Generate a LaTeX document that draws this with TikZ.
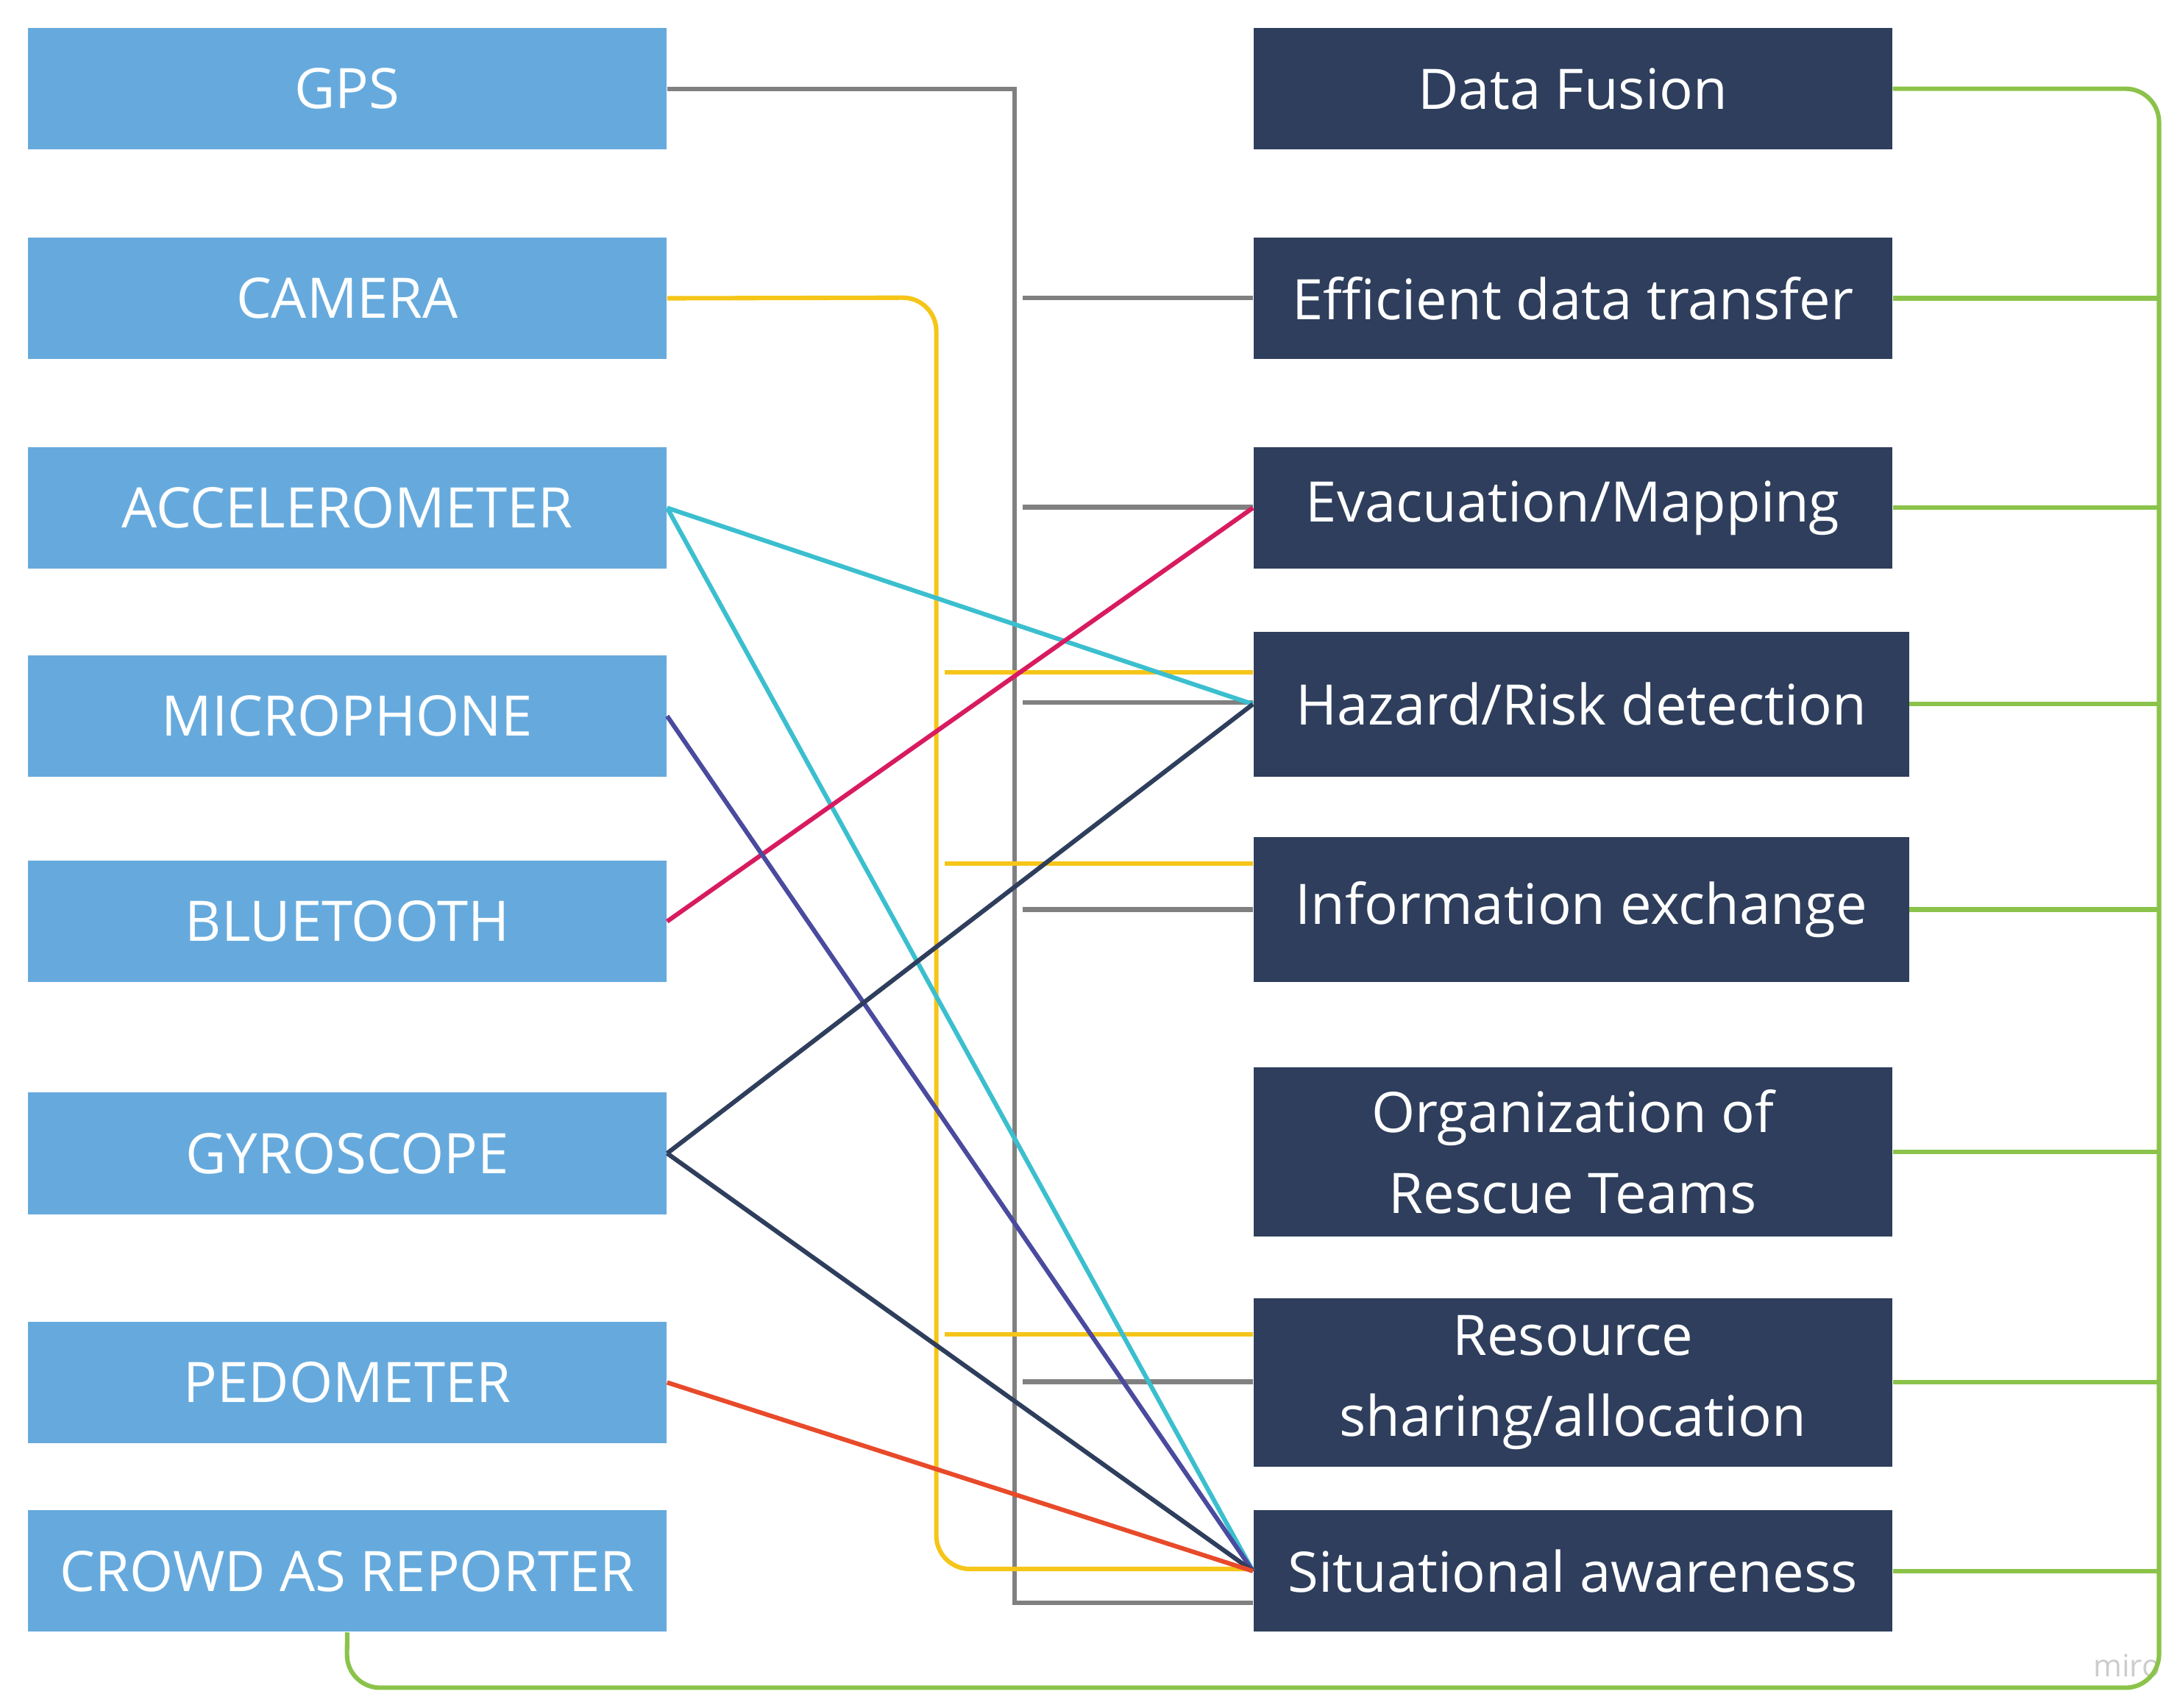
\documentclass[tikz,border=0pt]{standalone}
\usepackage{fontspec}
\setmainfont{Open Sans}
\definecolor{lb}{HTML}{66AADD}
\definecolor{db}{HTML}{2E3E5C}
\definecolor{gy}{HTML}{808080}
\definecolor{ye}{HTML}{F5C518}
\definecolor{cy}{HTML}{3BBFCF}
\definecolor{mg}{HTML}{D81B60}
\definecolor{bl}{HTML}{4A4A9E}
\definecolor{og}{HTML}{E84A2A}
\definecolor{gr}{HTML}{8BC34A}
\begin{document}
\begin{tikzpicture}[x=0.5pt,y=-0.5pt,
 L/.style={fill=lb,text=white,inner sep=0,minimum width=228.5pt,minimum height=43.5pt,font=\fontsize{20}{24}\selectfont},
 R/.style={fill=db,text=white,inner sep=0,minimum width=228.5pt,font=\fontsize{20}{29}\selectfont,align=center},
 c/.style={line width=1.6pt}]
\useasboundingbox (0,0) rectangle (1560,1222);
\node[L] (gps) at (248.5,63.5) {GPS};
\node[L] (cam) at (248.5,213.5) {CAMERA};
\node[L] (acc) at (248.5,363.5) {ACCELEROMETER};
\node[L] (mic) at (248.5,512.5) {MICROPHONE};
\node[L] (blu) at (248.5,659.5) {BLUETOOTH};
\node[L] (gyr) at (248.5,825.5) {GYROSCOPE};
\node[L] (ped) at (248.5,989.5) {PEDOMETER};
\node[L] (cro) at (248.5,1124.5) {CROWD AS REPORTER};
\node[R,minimum height=43.5pt] (df) at (1125.5,63.5) {Data Fusion};
\node[R,minimum height=43.5pt] (ef) at (1125.5,213.5) {Efficient data transfer};
\node[R,minimum height=43.5pt] (ev) at (1125.5,363.5) {Evacuation/Mapping};
\node[R,minimum height=52pt,minimum width=234.5pt] (hz) at (1131.5,504) {Hazard/Risk detection};
\node[R,minimum height=52pt,minimum width=234.5pt] (in) at (1131.5,651) {Information exchange};
\node[R,minimum height=60.5pt] (org) at (1125.5,824.5) {Organization of\\Rescue Teams};
\node[R,minimum height=60.5pt] (res) at (1125.5,989.5) {Resource\\sharing/allocation};
\node[R,minimum height=43.5pt] (sit) at (1125.5,1124.5) {Situational awareness};
\node[text=gray!40,font=\fontsize{11}{12}\selectfont] (miro) at (1522,1192) {miro};
% gray
\draw[c,gy] (gps.east) -- (726,63.5) -- (726,1147) -- (sit.west |- 0,1147);
\foreach \n/\y in {ef/213,ev/363,hz/503,in/651,res/989}
  \draw[c,gy] (732,\y) -- (\n.west |- 0,\y);
% yellow
\draw[c,ye,rounded corners=12pt] (cam.east) -- (670,213) -- (670,1123) -- (sit.west |- 0,1123);
\foreach \n/\y in {hz/481,in/618,res/955}
  \draw[c,ye] (676,\y) -- (\n.west |- 0,\y);
% diagonals
\draw[c,cy] (acc.east) -- (hz.west);
\draw[c,cy] (acc.east) -- (sit.west);
\draw[c,mg] (blu.east) -- (ev.west);
\draw[c,bl] (mic.east) -- (sit.west);
\draw[c,db] (gyr.east) -- (hz.west);
\draw[c,db] (gyr.east) -- (sit.west);
\draw[c,og] (ped.east) -- (sit.west);
% green
\draw[c,gr,rounded corners=12pt] (df.east) -- (1545,63.5) -- (1545,1208) -- (248,1208) -- (cro.south);
\foreach \n in {ef,ev,hz,in,org,res,sit}
  \draw[c,gr] (\n.east) -- (\n.east -| 1545,0);
\end{tikzpicture}
\end{document}
